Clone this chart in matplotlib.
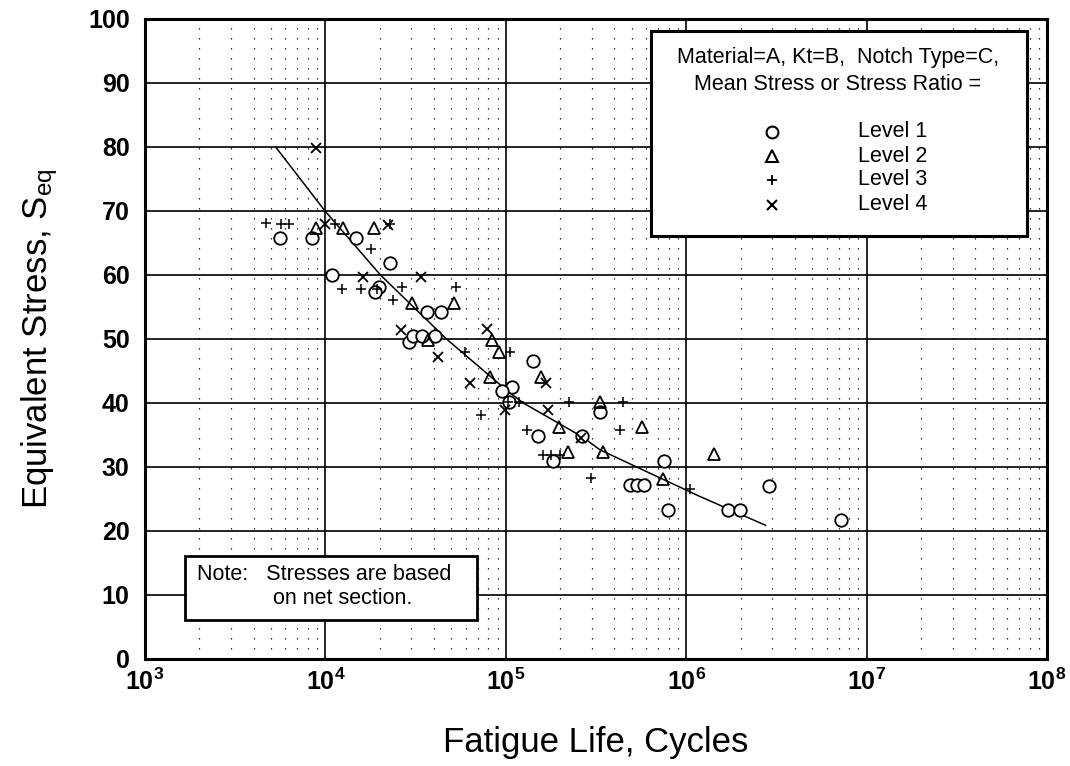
import matplotlib
matplotlib.use("Agg")
import matplotlib.pyplot as plt
from matplotlib.patches import Rectangle
from matplotlib.lines import Line2D
from matplotlib.ticker import FixedLocator, FixedFormatter, NullFormatter

plt.rcParams['font.family'] = ['Liberation Sans', 'DejaVu Sans']
plt.rcParams['mathtext.fontset'] = 'custom'
plt.rcParams['mathtext.rm'] = 'Liberation Sans'
plt.rcParams['mathtext.it'] = 'Liberation Sans:italic'
plt.rcParams['mathtext.bf'] = 'Liberation Sans:bold'

# ---- data ----
lvl1_n = [5.6e3, 8.4e3, 1.47e4, 2.27e4, 1.09e4, 1.98e4, 1.88e4, 3.68e4, 4.37e4, 2.91e4,
          3.06e4, 3.45e4, 4.04e4, 1.41e5, 1.08e5, 9.47e4, 1.04e5, 3.33e5, 1.5e5, 2.66e5,
          1.83e5, 7.55e5, 4.86e5, 5.34e5, 5.85e5, 7.95e5, 1.71e6, 1.99e6, 2.89e6, 7.2e6]
lvl1_s = [65.8, 65.8, 65.8, 61.9, 60.0, 58.2, 57.3, 54.2, 54.2, 49.6,
          50.5, 50.4, 50.4, 46.5, 42.5, 41.8, 40.2, 38.6, 34.8, 34.8,
          31.0, 31.0, 27.2, 27.2, 27.2, 23.3, 23.3, 23.3, 27.0, 21.7]

lvl2_n = [8.9e3, 1.25e4, 1.87e4, 3.03e4, 5.17e4, 3.71e4, 8.43e4, 9.2e4, 8.15e4, 1.56e5,
          3.33e5, 1.97e5, 5.7e5, 2.22e5, 3.44e5, 7.4e5, 1.43e6]
lvl2_s = [67.4, 67.4, 67.4, 55.7, 55.7, 49.9, 49.8, 48.0, 44.0, 44.0,
          40.2, 36.3, 36.3, 32.3, 32.3, 28.2, 32.1]

lvl3_n = [4.67e3, 5.7e3, 6.3e3, 1.13e4, 2.27e4, 1.78e4, 1.23e4, 1.58e4, 1.92e4, 2.67e4,
          2.37e4, 5.28e4, 5.93e4, 1.05e5, 1.03e5, 1.19e5, 7.33e4, 2.25e5, 4.44e5, 1.31e5,
          4.29e5, 1.61e5, 1.79e5, 1.99e5, 2.95e5, 1.05e6]
lvl3_s = [68.1, 68.0, 68.0, 68.0, 68.0, 64.1, 57.8, 57.8, 57.8, 58.1,
          56.1, 58.1, 48.0, 48.0, 40.2, 40.1, 38.1, 40.1, 40.1, 35.8,
          35.8, 31.9, 31.9, 31.9, 28.3, 26.6]

lvl4_n = [8.9e3, 1.0e4, 2.22e4, 1.62e4, 3.4e4, 2.62e4, 4.2e4, 7.9e4, 6.3e4, 1.67e5,
          9.86e4, 1.72e5, 2.61e5]
lvl4_s = [79.8, 67.9, 67.8, 59.7, 59.7, 51.4, 47.2, 51.5, 43.1, 43.1,
          38.9, 38.9, 34.6]

curve_n = [5.3e3, 9.95e3, 2.02e4, 4.69e4, 1.01e5, 1.25e5, 2.66e5, 3.32e5, 5.31e5, 1.0e6, 1.19e6, 2.75e6]
curve_s = [80.0, 70.0, 60.0, 50.0, 42.0, 40.0, 34.7, 32.7, 30.0, 26.4, 25.4, 20.9]

x_ticks = [1e3, 1e4, 1e5, 1e6, 1e7, 1e8]
x_tick_labels = [r'$\mathbf{10^{3}}$', r'$\mathbf{10^{4}}$', r'$\mathbf{10^{5}}$',
                 r'$\mathbf{10^{6}}$', r'$\mathbf{10^{7}}$', r'$\mathbf{10^{8}}$']
y_ticks = [0, 10, 20, 30, 40, 50, 60, 70, 80, 90, 100]
level_labels = ['Level 1', 'Level 2', 'Level 3', 'Level 4']

W, H = 1070, 766
fig = plt.figure(figsize=(W / 100, H / 100), dpi=100)
ax = fig.add_axes([145 / W, 1 - 659 / H, (1047 - 145) / W, (659 - 19) / H])
ax.set_xscale('log')
ax.set_xlim(1e3, 1e8)
ax.set_ylim(0, 100)

# grid
minor = [m * 10 ** e for e in range(3, 8) for m in range(2, 10)]
for xm in minor:
    ax.axvline(xm, color='black', lw=0.9, ls=(0, (1, 7)), zorder=1)
for xv in x_ticks[1:-1]:
    ax.axvline(xv, color='black', lw=1.2, zorder=1)
for yv in y_ticks[1:-1]:
    ax.axhline(yv, color='black', lw=1.2, zorder=1)

ax.xaxis.set_major_locator(FixedLocator(x_ticks))
ax.xaxis.set_major_formatter(FixedFormatter(x_tick_labels))
ax.xaxis.set_minor_formatter(NullFormatter())
ax.set_yticks(y_ticks)
ax.tick_params(axis='both', which='both', length=0)
ax.tick_params(axis='y', pad=11, labelsize=18)
ax.tick_params(axis='x', pad=7, labelsize=18)
for lab in ax.get_yticklabels():
    lab.set_fontweight('bold')
for sp in ax.spines.values():
    sp.set_linewidth(2.2)

mk = dict(linestyle='none', color='black', zorder=3)
ax.plot(lvl1_n, lvl1_s, marker='o', ms=9, mfc='white', mew=1.3, **mk)
ax.plot(lvl2_n, lvl2_s, marker='^', ms=9, mfc='none', mew=1.3, **mk)
ax.plot(lvl3_n, lvl3_s, marker='+', ms=7.5, mew=1.1, **mk)
ax.plot(lvl4_n, lvl4_s, marker='x', ms=7.5, mew=1.3, **mk)
ax.plot(curve_n, curve_s, color='black', lw=1.1, zorder=2)

ax.set_xlabel('Fatigue Life, Cycles', fontsize=25, labelpad=22)
ax.set_ylabel(r'Equivalent Stress, $\mathrm{S_{eq}}$', fontsize=25, labelpad=20)


def fx(px):
    return px / W


def fy(py):
    return 1 - py / H


# legend box
fig.add_artist(Rectangle((fx(651), fy(236)), (1027 - 651) / W, (236 - 31) / H,
                         transform=fig.transFigure, facecolor='white',
                         edgecolor='black', lw=2.2, zorder=5))
fig.text(fx(838), fy(57), 'Material=A, Kt=B,  Notch Type=C,', ha='center', va='center',
         fontsize=15.5, zorder=6)
fig.text(fx(838), fy(84), 'Mean Stress or Stress Ratio =', ha='center', va='center',
         fontsize=15.5, zorder=6)
leg_y = [131.5, 156, 179.5, 205]
leg_mk = [('o', 8.5, 1.5), ('^', 8.5, 1.5), ('+', 7, 1.3), ('x', 7, 1.5)]
for (m, s, w), yy, lab in zip(leg_mk, leg_y, level_labels):
    fig.add_artist(Line2D([fx(772)], [fy(yy)], marker=m, ms=s, mew=w, mfc='none',
                          color='black', linestyle='none', transform=fig.transFigure,
                          zorder=6))
    fig.text(fx(858), fy(yy), lab, ha='left', va='center', fontsize=15.5, zorder=6)

# note box
fig.add_artist(Rectangle((fx(185), fy(620)), (477 - 185) / W, (620 - 556) / H,
                         transform=fig.transFigure, facecolor='white',
                         edgecolor='black', lw=2.0, zorder=5))
fig.text(fx(197), fy(575), 'Note:   Stresses are based', ha='left', va='center',
         fontsize=15.5, zorder=6)
fig.text(fx(273), fy(598), 'on net section.', ha='left', va='center',
         fontsize=15.5, zorder=6)

fig.savefig('out.png', dpi=100)
